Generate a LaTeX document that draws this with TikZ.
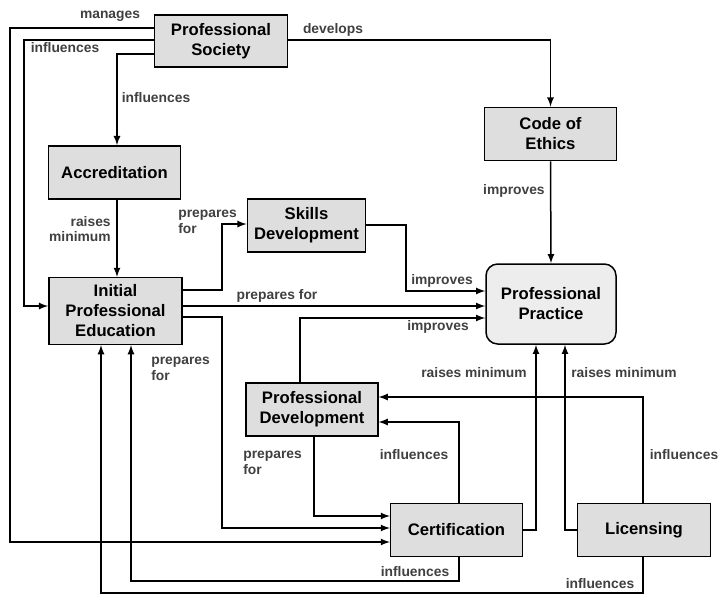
\documentclass[tikz,border=0pt]{standalone}
\usepackage{fontspec}
\setmainfont{Liberation Sans}
\begin{document}
\begin{tikzpicture}[x=0.6pt,y=-0.6pt]
\tikzstyle{unit} = [draw,line width=0.9pt,fill=black!13,align=center,inner sep=0pt,font=\fontsize{10}{12}\selectfont\bfseries];
\tikzstyle{practice} = [unit,fill=black!7,rounded corners=7pt];
\tikzstyle{link} = [-latex,line width=0.9pt];
\tikzstyle{tag} = [inner sep=0pt,text=black!75,font=\fontsize{8.3}{9.5}\selectfont\bfseries];

\useasboundingbox (0,0) rectangle (721,596);

\node [unit,minimum width=80pt,minimum height=31pt] (soc) at (221,41) {Professional\\Society};
\node [unit,minimum width=79pt,minimum height=32pt] (acc) at (114.5,172.5) {Accreditation};
\node [unit,minimum width=79pt,minimum height=32pt] (ethics) at (550.5,134) {Code of\\Ethics};
\node [unit,minimum width=71pt,minimum height=32pt] (skills) at (306.5,225.5) {Skills\\Development};
\node [unit,minimum width=80pt,minimum height=40pt] (ipe) at (115.5,311) {Initial\\Professional\\Education};
\node [practice,minimum width=78pt,minimum height=48pt] (pp) at (551,304) {Professional\\Practice};
\node [unit,minimum width=79pt,minimum height=32pt] (pd) at (312,409.5) {Professional\\Development};
\node [unit,minimum width=79pt,minimum height=32pt] (cert) at (456.5,530) {Certification};
\node [unit,minimum width=80pt,minimum height=32pt] (lic) at (644,530) {Licensing};

% society
\draw [link] (soc.west |- 0,28) -| (10,542) -- (cert.west |- 0,542);
\draw [link] (soc.west |- 0,40) -| (24,306) -- (ipe.west |- 0,306);
\draw [link] (soc.west |- 0,54) -| (acc.north -| 117,0);
\draw [link] (soc.east |- 0,40) -| (ethics.north);
\node [tag] (t1) at (110,16) {manages};
\node [tag] (t2) at (65,48) {influences};
\node [tag] (t3) at (156,98) {influences};
\node [tag] (t4) at (333,30) {develops};

% ethics, accreditation
\draw [link] (ethics.south) -- (pp.north);
\draw [link] (acc.south -| 117,0) -- (ipe.north -| 117,0);
\node [tag,anchor=east] (t5) at (545,191) {improves};
\node [tag,anchor=east,align=right] (t6) at (111,229) {raises\\minimum};

% initial education
\draw [link] (ipe.east |- 0,290) -| (222,224) -- (skills.west |- 0,224);
\draw [link] (ipe.east |- 0,306) -- (pp.west |- 0,306);
\draw [link] (ipe.east |- 0,317) -| (222,528) -- (cert.west |- 0,528);
\node [tag,anchor=west,align=left] (t7) at (178,222) {prepares\\for};
\node [tag] (t8) at (277,296) {prepares for};
\node [tag,anchor=west,align=left] (t9) at (151,369) {prepares\\for};

% into practice
\draw [link] (skills.east |- 0,225) -| (406,291) -- (pp.west |- 0,291);
\draw [link] (pd.north -| 300,0) |- (pp.west |- 0,318);
\draw [link] (cert.east) -| (pp.south -| 536,0);
\draw [link] (lic.west) -| (pp.south -| 565,0);
\node [tag] (t10) at (442,281) {improves};
\node [tag] (t11) at (438,327) {improves};
\node [tag] (t12) at (474,373) {raises minimum};
\node [tag] (t13) at (624,373) {raises minimum};

% development, certification, licensing
\draw [link] (lic.north -| 643,0) |- (pd.east |- 0,397);
\draw [link] (cert.north -| 459,0) |- (pd.east |- 0,422);
\draw [link] (pd.south -| 314,0) |- (cert.west |- 0,516);
\draw [link] (cert.south -| 459,0) |- (131,581) -- (ipe.south -| 131,0);
\draw [link] (lic.south -| 643,0) |- (101,593) -- (ipe.south -| 101,0);
\node [tag] (t14) at (684,455) {influences};
\node [tag] (t15) at (414,455) {influences};
\node [tag,anchor=west,align=left] (t16) at (243,463) {prepares\\for};
\node [tag] (t17) at (415,572) {influences};
\node [tag] (t18) at (600,584) {influences};
\end{tikzpicture}
\end{document}
